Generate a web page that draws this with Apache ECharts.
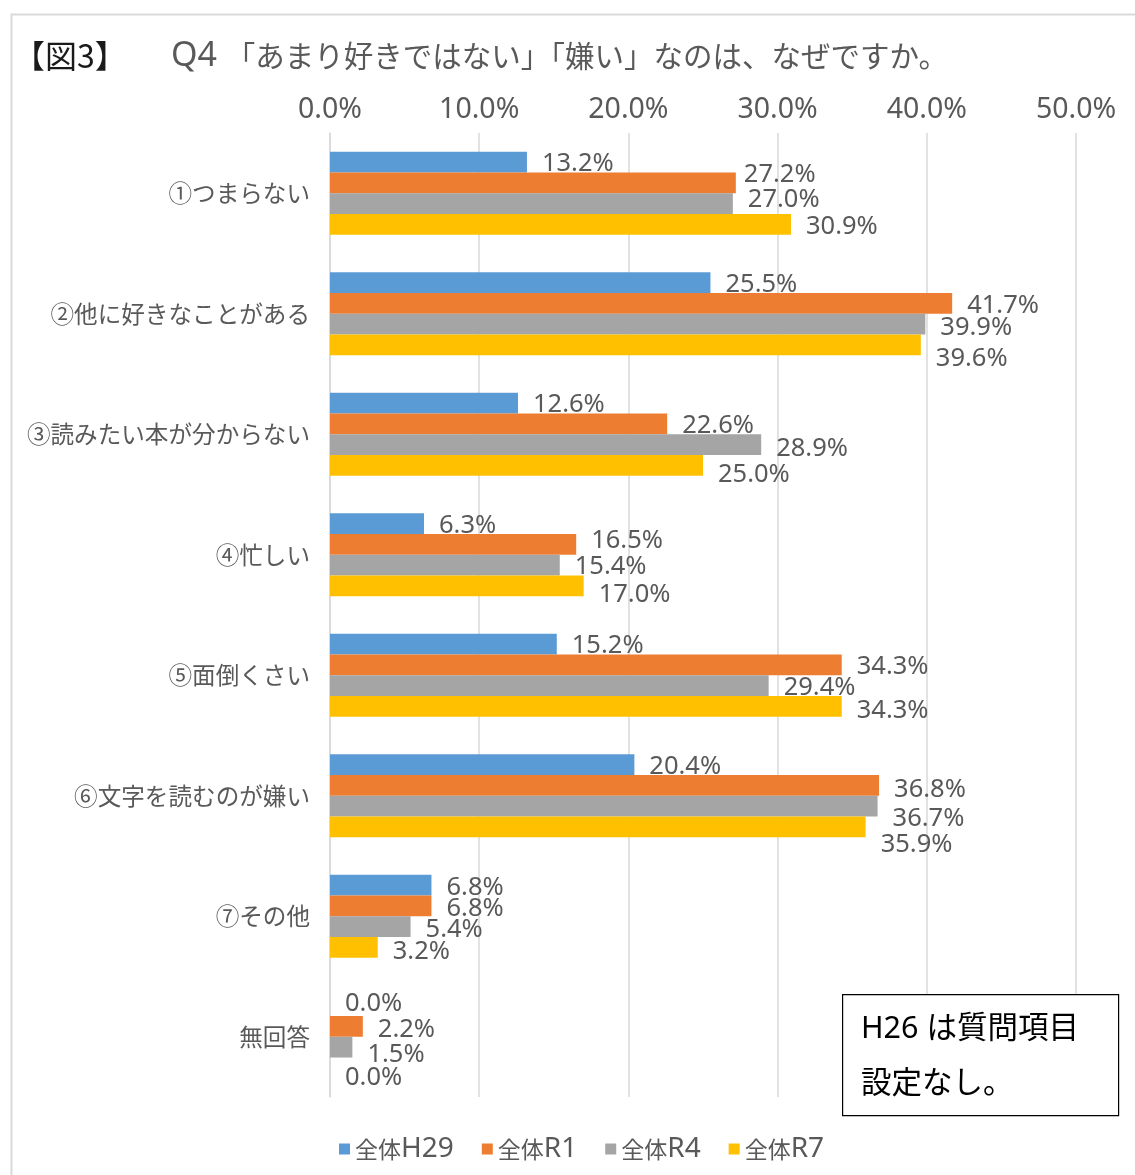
<!DOCTYPE html>
<html>
<head>
<meta charset="utf-8">
<script src="https://cdn.jsdelivr.net/npm/echarts@6/dist/echarts.min.js"></script>
<style>
html,body{margin:0;padding:0;background:#fff;}
#main{width:1135px;height:1175px;}
</style>
</head>
<body>
<div id="main"></div>
<script>
// ---- data ----
const categories = ['①つまらない','②他に好きなことがある','③読みたい本が分からない','④忙しい','⑤面倒くさい','⑥文字を読むのが嫌い','⑦その他','無回答'];
const seriesNames = ['全体H29','全体R1','全体R4','全体R7'];
const valuesH29 = [13.2, 25.5, 12.6, 6.3, 15.2, 20.4, 6.8, 0.0];
const valuesR1  = [27.2, 41.7, 22.6, 16.5, 34.3, 36.8, 6.8, 2.2];
const valuesR4  = [27.0, 39.9, 28.9, 15.4, 29.4, 36.7, 5.4, 1.5];
const valuesR7  = [30.9, 39.6, 25.0, 17.0, 34.3, 35.9, 3.2, 0.0];
const axisTicks = [0, 10, 20, 30, 40, 50];

// ---- style (label nudges, colours) ----
const colors = ['#5B9BD5','#ED7D31','#A5A5A5','#FFC000'];
const labelNudge = [
  [[0,0],[0,0],[0,0],[0,0],[0,0],[0,0],[0,1],[0,-4]],
  [[-7,-10],[0,0],[0,0],[0,-6],[0,0],[0,2],[0,1],[0,1]],
  [[0,-6],[0,2],[0,2],[0,0],[0,0],[0,11],[0,1],[0,6]],
  [[0,0],[0,12],[0,7],[0,7],[0,2],[0,16],[0,2],[0,8]]
];
const labelBaseDy = 2;
const allValues = [valuesH29, valuesR1, valuesR4, valuesR7];
const LATIN = '"Noto Sans", "Noto Sans CJK JP", sans-serif';
const CJK = '"Noto Sans CJK JP", sans-serif';

const chart = echarts.init(document.getElementById('main'));
const series = allValues.map((vals, si) => ({
  name: seriesNames[si],
  type: 'bar',
  barGap: '0%',
  barCategoryGap: '31%',
  itemStyle: { color: colors[si] },
  data: vals.map((v, i) => ({
    value: v,
    label: { offset: [labelNudge[si][i][0], labelNudge[si][i][1] + labelBaseDy] }
  })),
  label: {
    show: true,
    position: 'right',
    distance: 15,
    color: '#595959',
    fontSize: 25.5,
    fontFamily: LATIN,
    formatter: p => p.value.toFixed(1) + '%'
  },
  emphasis: { disabled: true }
}));

chart.setOption({
  animation: false,
  color: colors,
  grid: { left: 330, right: 59, top: 133, bottom: 78, containLabel: false },
  xAxis: {
    type: 'value',
    position: 'top',
    min: axisTicks[0],
    max: axisTicks[axisTicks.length - 1],
    interval: axisTicks[1] - axisTicks[0],
    axisLine: { show: false },
    axisTick: { show: false },
    splitLine: { show: true, lineStyle: { color: '#d9d9d9', width: 1.5 } },
    axisLabel: {
      margin: 9,
      color: '#595959',
      fontSize: 28.5,
      fontFamily: LATIN,
      formatter: v => v.toFixed(1) + '%'
    }
  },
  yAxis: {
    type: 'category',
    inverse: true,
    data: categories,
    axisLine: { show: true, lineStyle: { color: '#d9d9d9', width: 1.5 } },
    axisTick: { show: false },
    axisLabel: {
      margin: 20,
      color: '#595959',
      fontSize: 23.6,
      fontFamily: CJK
    }
  },
  legend: {
    bottom: 7,
    left: 334,
    itemWidth: 11,
    itemHeight: 11,
    itemGap: 28,
    icon: 'rect',
    formatter: name => '{c|' + name.slice(0, 2) + '}{l|' + name.slice(2) + '}',
    textStyle: {
      color: '#595959',
      rich: {
        c: { fontSize: 23, fontFamily: CJK, color: '#595959' },
        l: { fontSize: 28, fontFamily: LATIN, color: '#595959' }
      }
    },
    data: seriesNames
  },
  graphic: [
    { type: 'rect', left: 9, top: 12, shape: { width: 1200, height: 1200 },
      style: { fill: 'none', stroke: '#d9d9d9', lineWidth: 2 }, silent: true, z: -1 },
    { type: 'text', left: 13, top: 40,
      style: { text: '【図3】', fill: '#1a1a1a', font: '32px "Noto Sans CJK JP", sans-serif' } },
    { type: 'text', left: 171, top: 39,
      style: {
        text: '{l|Q4 }{c|「あまり好きではない」「嫌い」なのは、なぜですか。}',
        rich: {
          l: { fontSize: 34, fontFamily: LATIN, fill: '#595959', color: '#595959' },
          c: { fontSize: 29.5, fontFamily: CJK, fill: '#595959', color: '#595959' }
        }
      } },
    { type: 'rect', left: 842, top: 994, shape: { width: 276, height: 121 },
      style: { fill: '#fff', stroke: '#000', lineWidth: 1.2 }, z: 10 },
    { type: 'text', left: 861, top: 1014, z: 11,
      style: { text: 'H26 は質問項目', fill: '#000', font: '30.5px "Noto Sans", "Noto Sans CJK JP", sans-serif' } },
    { type: 'text', left: 861, top: 1066, z: 11,
      style: { text: '設定なし。', fill: '#000', font: '30.5px "Noto Sans CJK JP", sans-serif' } }
  ],
  series: series
});
</script>
</body>
</html>
